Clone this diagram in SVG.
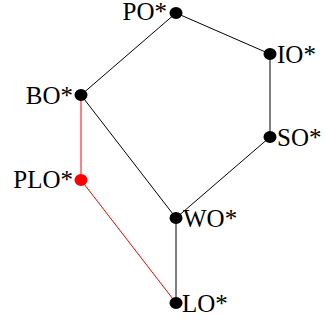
<svg xmlns="http://www.w3.org/2000/svg" width="326" height="325" viewBox="0 0 326 325">
<style>
.e{stroke:#000;stroke-width:1;fill:none}
.r{stroke:#f00}
.n{fill:#000}
.nr{fill:#f00}
text{font-family:"Liberation Serif","Times New Roman",serif;font-size:25px;fill:#000}
.end{text-anchor:end}
</style>
<rect width="326" height="325" fill="#fff"/>
<g id="connectors">
<line class="e" x1="176" y1="13" x2="270" y2="54"/>
<line class="e" x1="176" y1="13" x2="81" y2="95"/>
<line class="e" x1="270" y1="54" x2="270" y2="137"/>
<line class="e" x1="270" y1="137" x2="176" y2="218"/>
<line class="e" x1="81" y1="95" x2="176" y2="218"/>
<line class="e" x1="176" y1="218" x2="176" y2="303"/>
<line class="e r" x1="81" y1="95" x2="81" y2="180"/>
<line class="e r" x1="81" y1="180" x2="176" y2="303"/>
</g>
<g id="PO"><ellipse class="n" cx="176" cy="13" rx="6.5" ry="6"/><text class="end" x="167" y="20">PO*</text></g>
<g id="IO"><ellipse class="n" cx="270" cy="54" rx="6.5" ry="6"/><text x="277" y="63">IO*</text></g>
<g id="BO"><ellipse class="n" cx="81" cy="95" rx="6.5" ry="6"/><text class="end" x="73" y="104">BO*</text></g>
<g id="SO"><ellipse class="n" cx="270" cy="137" rx="6.5" ry="6"/><text x="277" y="146">SO*</text></g>
<g id="PLO"><ellipse class="nr" cx="81" cy="180" rx="6.5" ry="6"/><text class="end" x="73" y="188">PLO*</text></g>
<g id="WO"><ellipse class="n" cx="176" cy="218" rx="6.5" ry="6"/><text x="183" y="227">WO*</text></g>
<g id="LO"><ellipse class="n" cx="176" cy="303" rx="6.5" ry="6"/><text x="182" y="312">LO*</text></g>
</svg>
